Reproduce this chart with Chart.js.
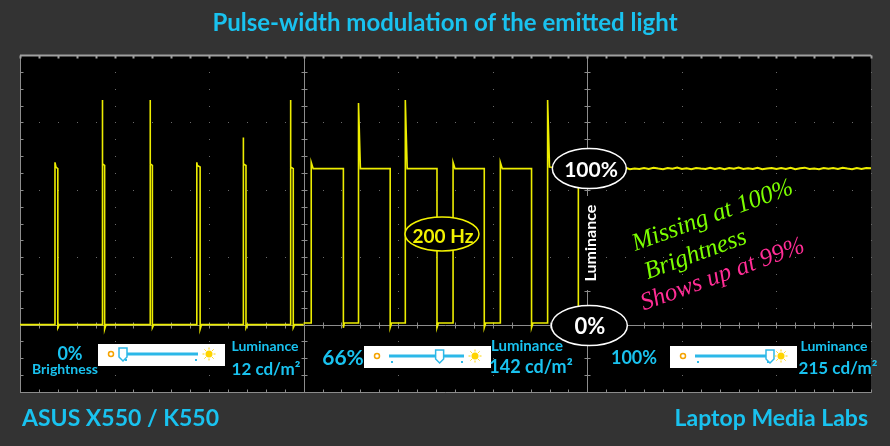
<!DOCTYPE html>
<html>
<head>
<meta charset="utf-8">
<script src="https://cdn.jsdelivr.net/npm/chart.js@4.4.0/dist/chart.umd.min.js"></script>
<style>
  body { margin: 0; background: #333333; }
  #stage { position: relative; width: 890px; height: 446px; overflow: hidden; background: #333333; font-family: Lato, 'Open Sans', sans-serif; }
  #scope { position: absolute; left: 0; top: 0; }
  .t { position: absolute; transform: translate(-50%, -50%); white-space: nowrap; line-height: 1; }
  .cyan { color: #19c2ef; font-weight: bold; }
  .white { color: #ffffff; font-weight: bold; }
  .note { font-family: 'Liberation Serif', serif; font-style: italic; font-size: 25px; transform: translate(-50%, -50%) rotate(-20deg); }
</style>
</head>
<body>
<div id="stage">
  <canvas id="scope" width="890" height="446"></canvas>

  <div class="t cyan" style="left:445px; top:22px; font-size:24px;">Pulse-width modulation of the emitted light</div>
  <div class="t cyan" style="left:22px; top:417px; font-size:23px; transform:translate(0,-50%);">ASUS X550 / K550</div>
  <div class="t cyan" style="left:868px; top:417px; font-size:23px; transform:translate(-100%,-50%);">Laptop Media Labs</div>

  <div class="t white" style="left:591px; top:168px; font-size:21px;">100%</div>
  <div class="t white" style="left:590px; top:326px; font-size:22px;">0%</div>
  <div class="t white" style="left:590px; top:243px; font-size:16px; transform:translate(-50%,-50%) rotate(-90deg);">Luminance</div>
  <div class="t" style="left:443px; top:235px; font-size:19px; color:#f2f200; font-weight:bold;">200 Hz</div>

  <div class="t note" style="left:712px; top:214px; color:#7cff00;">Missing at 100%</div>
  <div class="t note" style="left:695px; top:253px; color:#7cff00;">Brightness</div>
  <div class="t note" style="left:722px; top:273px; color:#ff2d95;">Shows up at 99%</div>

  <div id="labels"></div>
</div>

<script>
// Time axis in ms (10 ms per division), luminance in % of full brightness
const xMin = 0, xMax = 90;
const yMin = -43.2, yMax = 172.8;
const xDivisions = [0, 10, 20, 30, 40, 50, 60, 70, 80, 90];
const yDivisions = [-43.2, 0, 43.2, 86.4, 129.6, 172.8];
const panelEdges = [0, 30, 60, 90];

// 0% brightness - short spikes
const lowTime  = [0, 3.7, 3.7, 3.8, 4.0, 4.0, 4.15, 8.7, 8.7, 8.75, 8.95, 8.95, 9.1, 13.75, 13.75, 13.8, 14.0, 14.0, 14.15,
                  18.7, 18.7, 18.75, 19.05, 19.05, 19.2, 23.6, 23.6, 23.65, 23.9, 23.9, 24.05, 28.6, 28.6, 28.65, 28.9, 28.9, 29.05, 30];
const lowLevel = [0, 0, 104, 101, 100, -2, 0, 0, 144, 103, 102, -3, 0, 0, 144, 103, 102, -2, 0,
                  0, 104, 102, 101, -3, 0, 0, 120, 103, 102, -2, 0, 0, 144, 101, 100, -2, 0, 0];

// 66% brightness - 200 Hz square wave
const midTime  = [30, 30.8, 30.8, 31.0, 34.2, 34.2, 34.3, 35.8, 35.8, 36.0, 39.15, 39.15, 39.3, 40.75, 40.75, 40.95, 44.1, 44.1, 44.25,
                  45.8, 45.8, 46.0, 49.1, 49.1, 49.25, 50.8, 50.8, 51.0, 54.1, 54.1, 54.25, 55.8, 55.8, 56.0, 59.05, 59.05, 59.2, 60];
const midLevel = [1, 1, 104, 100, 100, -2, 1, 1, 142, 100, 100, -2, 1, 1, 144, 100, 100, -2, 1,
                  1, 104, 100, 100, -2, 1, 1, 104, 100, 100, -2, 1, 1, 144, 101, 100, -2, 1, 1];

// 100% brightness - flat, only noise
const highTime  = [60, 60.5, 61, 61.5, 62, 62.5, 63, 63.5, 64, 64.5, 65, 65.5, 66, 66.5, 67, 67.5, 68, 68.5, 69, 69.5,
                   70, 70.5, 71, 71.5, 72, 72.5, 73, 73.5, 74, 74.5, 75, 75.5, 76, 76.5, 77, 77.5, 78, 78.5, 79, 79.5,
                   80, 80.5, 81, 81.5, 82, 82.5, 83, 83.5, 84, 84.5, 85, 85.5, 86, 86.5, 87, 87.5, 88, 88.5, 89, 89.5, 90];
const highLevel = [100, 100.4, 99.6, 100.3, 99.8, 100.5, 99.7, 100.2, 100.6, 99.6, 100.1, 99.7, 100.4, 99.8, 100.5, 100, 99.6, 100.3, 99.9, 100.6,
                   99.7, 100.2, 99.6, 100.4, 100, 99.7, 100.5, 99.8, 100.3, 99.6, 100.4, 99.9, 100.6, 99.7, 100.2, 99.8, 100.5, 99.6, 100.1, 100.4,
                   99.7, 100.3, 99.8, 100.5, 99.6, 100.2, 100.6, 99.8, 100.1, 99.6, 100.4, 99.9, 100.3, 99.7, 100.5, 100, 99.6, 100.3, 99.8, 100.4, 100.2];

const brightness = ['0%', '66%', '100%'];
const sliderPos = [0, 0.675, 1];
const luminance = ['12', '142', '215'];

const toPoints = (xs, ys) => xs.map((v, i) => ({ x: v, y: ys[i] }));

const axisGray = '#8c8c8c';

const scopeGrid = {
  id: 'scopeGrid',
  beforeDatasetsDraw(chart) {
    const { ctx, chartArea: a, scales: { x, y } } = chart;
    ctx.save();
    ctx.fillStyle = '#000';
    ctx.fillRect(a.left, a.top, a.right - a.left, a.bottom - a.top);

    // dotted division lines
    ctx.fillStyle = '#6a6a6a';
    for (const dx of xDivisions) {
      const px = Math.round(x.getPixelForValue(dx));
      for (let v = yMin; v <= yMax + 0.01; v += 10.8) ctx.fillRect(px, Math.round(y.getPixelForValue(v)), 1, 1);
    }
    for (const dy of yDivisions) {
      const py = Math.round(y.getPixelForValue(dy));
      for (let t = xMin; t <= xMax + 0.01; t += 2) ctx.fillRect(Math.round(x.getPixelForValue(t)), py, 1, 1);
    }

    // solid axes with tick marks
    ctx.strokeStyle = axisGray;
    ctx.lineWidth = 1;
    const hLine = (v, up, down) => {
      const py = Math.round(y.getPixelForValue(v)) + 0.5;
      ctx.beginPath();
      ctx.moveTo(a.left, py); ctx.lineTo(a.right, py);
      for (let t = xMin; t <= xMax + 0.01; t += 2) {
        const px = Math.round(x.getPixelForValue(t)) + 0.5;
        ctx.moveTo(px, py - up); ctx.lineTo(px, py + down);
      }
      ctx.stroke();
    };
    const vLine = (t, left, right) => {
      const px = Math.round(x.getPixelForValue(t)) + 0.5;
      ctx.beginPath();
      ctx.moveTo(px, a.top); ctx.lineTo(px, a.bottom);
      for (let v = yMin; v <= yMax + 0.01; v += 10.8) {
        const py = Math.round(y.getPixelForValue(v)) + 0.5;
        ctx.moveTo(px - left, py); ctx.lineTo(px + right, py);
      }
      ctx.stroke();
    };
    hLine(0, 3, 3);
    hLine(yMin, 3, 0);
    vLine(panelEdges[0], 0, 3);
    vLine(panelEdges[1], 3, 3);
    vLine(panelEdges[2], 3, 3);
    ctx.strokeStyle = '#a0a0a0';
    ctx.lineWidth = 2;
    hLine(yMax, 0, 3);
    ctx.restore();
  },
  afterDatasetsDraw(chart) {
    const { ctx, scales: { x, y } } = chart;
    ctx.save();
    const ellipse = (cx, cy, rx, ry, color) => {
      ctx.beginPath();
      ctx.ellipse(cx, cy, rx, ry, 0, 0, Math.PI * 2);
      ctx.fillStyle = '#000';
      ctx.fill();
      ctx.lineWidth = 1.5;
      ctx.strokeStyle = color;
      ctx.stroke();
    };
    const edgeX = x.getPixelForValue(panelEdges[2]) + 2;
    ctx.fillStyle = '#000';
    ctx.fillRect(edgeX - 9, 196, 18, 94);
    ellipse(edgeX, y.getPixelForValue(100), 37, 20, '#ffffff');
    ellipse(edgeX, y.getPixelForValue(0) + 1, 38, 20, '#ffffff');
    ellipse(442, 234, 37, 17, '#f2f200');

    // brightness sliders
    const boxes = [[98, 344], [364, 346], [670, 346]];
    boxes.forEach(([bx, by], i) => {
      const w = 127, h = 22, cy = by + 10;
      ctx.fillStyle = '#ffffff';
      ctx.fillRect(bx, by, w, h);
      ctx.strokeStyle = '#f5a300';
      ctx.lineWidth = 1.5;
      ctx.beginPath(); ctx.arc(bx + 13, cy, 2.5, 0, Math.PI * 2); ctx.stroke();
      const t0 = bx + 25, t1 = bx + 100;
      ctx.strokeStyle = '#2cb8e8';
      ctx.lineWidth = 3;
      ctx.beginPath(); ctx.moveTo(t0, cy); ctx.lineTo(t1, cy); ctx.stroke();
      ctx.fillStyle = '#2cb8e8';
      ctx.fillRect(t0 + 2, cy + 5, 2, 2);
      ctx.fillRect(t1 - 3, cy + 5, 2, 2);
      const hx = t0 + (t1 - t0) * sliderPos[i];
      ctx.fillStyle = '#ffffff';
      ctx.strokeStyle = '#2cb8e8';
      ctx.lineWidth = 1.5;
      ctx.beginPath();
      ctx.moveTo(hx - 4, cy - 6); ctx.lineTo(hx + 4, cy - 6); ctx.lineTo(hx + 4, cy + 3);
      ctx.lineTo(hx, cy + 7); ctx.lineTo(hx - 4, cy + 3); ctx.closePath();
      ctx.fill(); ctx.stroke();
      const sx = bx + 111;
      ctx.fillStyle = '#ffd400';
      ctx.strokeStyle = '#ffd400';
      ctx.lineWidth = 1;
      ctx.beginPath(); ctx.arc(sx, cy, 3.5, 0, Math.PI * 2); ctx.fill();
      ctx.beginPath();
      for (let k = 0; k < 8; k++) {
        const ang = k * Math.PI / 4;
        ctx.moveTo(sx + Math.cos(ang) * 4.5, cy + Math.sin(ang) * 4.5);
        ctx.lineTo(sx + Math.cos(ang) * 6.5, cy + Math.sin(ang) * 6.5);
      }
      ctx.stroke();
    });
    ctx.restore();
  }
};

function buildLabels() {
  const spots = [
    { b: [70, 353, 18], lum: [265, 346, 14], val: [266, 368, 17] },
    { b: [343, 356, 21], lum: [527, 345, 15], val: [531, 366, 18] },
    { b: [634, 357, 18], lum: [834, 346, 14], val: [838, 367, 17] }
  ];
  const host = document.getElementById('labels');
  let html = '';
  spots.forEach((s, i) => {
    html += `<div class="t cyan" style="left:${s.b[0]}px;top:${s.b[1]}px;font-size:${s.b[2]}px">${brightness[i]}</div>`;
    html += `<div class="t cyan" style="left:${s.lum[0]}px;top:${s.lum[1]}px;font-size:${s.lum[2]}px">Luminance</div>`;
    html += `<div class="t cyan" style="left:${s.val[0]}px;top:${s.val[1]}px;font-size:${s.val[2]}px">${luminance[i]} cd/m²</div>`;
  });
  html += `<div class="t cyan" style="left:65px;top:369px;font-size:14px">Brightness</div>`;
  host.innerHTML = html;
}

function createScope() {
  const ctx = document.getElementById('scope');
  const line = { borderColor: '#eded00', borderWidth: 1.6, pointRadius: 0, tension: 0, fill: false };
  new Chart(ctx, {
    type: 'line',
    data: {
      datasets: [
        { label: '0%', data: toPoints(lowTime, lowLevel), ...line },
        { label: '66%', data: toPoints(midTime, midLevel), ...line },
        { label: '100%', data: toPoints(highTime, highLevel), ...line, borderWidth: 2 }
      ]
    },
    options: {
      responsive: false,
      animation: false,
      layout: { padding: { left: 20, right: 19, top: 55, bottom: 54 } },
      plugins: { legend: { display: false }, tooltip: { enabled: false } },
      scales: {
        x: { type: 'linear', min: xMin, max: xMax, display: false },
        y: { type: 'linear', min: yMin, max: yMax, display: false }
      }
    },
    plugins: [scopeGrid]
  });
}

buildLabels();
createScope();
</script>
</body>
</html>
